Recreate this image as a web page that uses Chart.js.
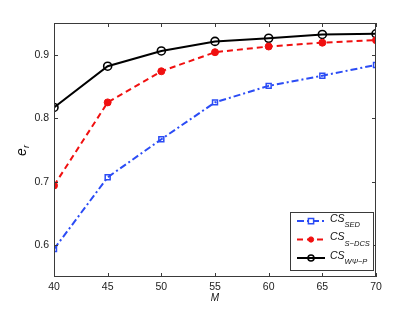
<!DOCTYPE html>
<html>
<head>
<meta charset="utf-8">
<script src="https://cdn.jsdelivr.net/npm/chart.js@4/dist/chart.umd.min.js"></script>
<style>
  html, body { margin: 0; padding: 0; background: #fff; }
  canvas { display: block; }
</style>
</head>
<body>
<canvas id="c" width="415" height="312"></canvas>
<script>
// values
var mValues = [40, 45, 50, 55, 60, 65, 70];
var csSed = [0.594, 0.707, 0.767, 0.825, 0.851, 0.867, 0.884];
var csSDcs = [0.694, 0.825, 0.874, 0.904, 0.913, 0.919, 0.923];
var csWpsiP = [0.817, 0.882, 0.906, 0.921, 0.926, 0.932, 0.933];
var yTicks = [0.6, 0.7, 0.8, 0.9];
var legendSubs = ['SED', 'S\u2212DCS', 'W\u03A8\u2212P'];

var FONT = '"Liberation Sans", Arial, sans-serif';
var AXIS_COLOR = '#3a3a3a';

function toPoints(vals) {
    return vals.map(function(v, i) { return {x: mValues[i], y: v}; });
}

// MATLAB-like box with inward ticks, axis titles and legend
var matlabAxes = {
    id: 'matlabAxes',
    afterDraw: function(chart) {
        var ctx = chart.ctx;
        var a = chart.chartArea;
        var xs = chart.scales.x, ys = chart.scales.y;
        ctx.save();
        ctx.strokeStyle = AXIS_COLOR;
        ctx.lineWidth = 1;
        ctx.strokeRect(a.left + 0.5, a.top + 0.5, a.right - a.left - 1, a.bottom - a.top - 1);
        var tl = 4;
        ctx.beginPath();
        mValues.forEach(function(v) {
            var px = Math.round(xs.getPixelForValue(v)) + 0.5;
            ctx.moveTo(px, a.bottom); ctx.lineTo(px, a.bottom - tl);
            ctx.moveTo(px, a.top); ctx.lineTo(px, a.top + tl);
        });
        yTicks.forEach(function(v) {
            var py = Math.round(ys.getPixelForValue(v)) + 0.5;
            ctx.moveTo(a.left, py); ctx.lineTo(a.left + tl, py);
            ctx.moveTo(a.right, py); ctx.lineTo(a.right - tl, py);
        });
        ctx.stroke();

        // axis titles
        ctx.fillStyle = '#111';
        ctx.textAlign = 'center';
        ctx.textBaseline = 'middle';
        ctx.font = 'italic 10px ' + FONT;
        ctx.fillText('M', (a.left + a.right) / 2, 298);

        ctx.save();
        ctx.translate(22, (a.top + a.bottom) / 2);
        ctx.rotate(-Math.PI / 2);
        ctx.textAlign = 'left';
        ctx.font = 'italic 14px ' + FONT;
        ctx.fillText('e', -6, 0);
        ctx.font = 'italic 9px ' + FONT;
        ctx.fillText('r', 2, 4);
        ctx.restore();

        // legend
        var lx = 290, ly = 212, lw = 83, lh = 58;
        ctx.fillStyle = '#fff';
        ctx.fillRect(lx, ly, lw, lh);
        ctx.strokeStyle = AXIS_COLOR;
        ctx.strokeRect(lx + 0.5, ly + 0.5, lw, lh);
        var rows = [221, 239.5, 258];
        chart.data.datasets.forEach(function(ds, i) {
            var y = rows[i];
            ctx.save();
            ctx.strokeStyle = ds.borderColor;
            ctx.lineWidth = ds.borderWidth;
            ctx.setLineDash(ds.borderDash || []);
            ctx.beginPath();
            ctx.moveTo(297, y); ctx.lineTo(325, y);
            ctx.stroke();
            ctx.setLineDash([]);
            ctx.lineWidth = ds.pointBorderWidth;
            ctx.strokeStyle = ds.pointBorderColor;
            ctx.fillStyle = ds.pointBackgroundColor;
            var r = ds.pointRadius * 0.75;
            ctx.beginPath();
            if (ds.pointStyle === 'rect') {
                ctx.rect(311 - r, y - r, r * 2, r * 2);
                ctx.fillStyle = '#fff';
                ctx.fill();
            } else {
                ctx.arc(311, y, r, 0, Math.PI * 2);
                ctx.fill();
            }
            ctx.stroke();
            ctx.restore();

            ctx.fillStyle = '#111';
            ctx.textAlign = 'left';
            ctx.textBaseline = 'middle';
            ctx.font = 'italic 10.5px ' + FONT;
            ctx.fillText('CS', 330, y - 2);
            var w = ctx.measureText('CS').width;
            ctx.font = 'italic 7.5px ' + FONT;
            ctx.fillText(legendSubs[i], 330 + w, y + 4);
        });
        ctx.restore();
    }
};

var ctx = document.getElementById('c').getContext('2d');
new Chart(ctx, {
    type: 'line',
    data: {
        datasets: [{
            label: 'CS_SED',
            data: toPoints(csSed),
            borderColor: '#2b4cf5',
            borderWidth: 2,
            borderDash: [7, 3, 2, 3],
            pointStyle: 'rect',
            pointRadius: 3.5,
            pointBorderWidth: 1.5,
            pointBorderColor: '#2b4cf5',
            pointBackgroundColor: 'rgba(255,255,255,0)'
        }, {
            label: 'CS_S-DCS',
            data: toPoints(csSDcs),
            borderColor: '#f01010',
            borderWidth: 2,
            borderDash: [6, 4],
            pointStyle: 'circle',
            pointRadius: 3.5,
            pointBorderWidth: 1,
            pointBorderColor: '#f01010',
            pointBackgroundColor: '#f01010'
        }, {
            label: 'CS_WPsi-P',
            data: toPoints(csWpsiP),
            borderColor: '#000',
            borderWidth: 2,
            pointStyle: 'circle',
            pointRadius: 4,
            pointBorderWidth: 1.6,
            pointBorderColor: '#000',
            pointBackgroundColor: 'rgba(255,255,255,0)'
        }]
    },
    options: {
        responsive: false,
        animation: false,
        layout: { padding: { top: 23, right: 39, left: 0, bottom: 0 } },
        plugins: { legend: { display: false }, tooltip: { enabled: false } },
        scales: {
            x: {
                type: 'linear',
                min: 40, max: 70,
                grid: { display: false, drawTicks: false, tickLength: 0 },
                border: { display: false },
                afterFit: function(s) { s.height = 35; },
                ticks: { stepSize: 5, color: '#222', padding: 4, font: { family: FONT, size: 10.5 } }
            },
            y: {
                min: 0.55, max: 0.95,
                grid: { display: false, drawTicks: false, tickLength: 0 },
                border: { display: false },
                afterBuildTicks: function(s) { s.ticks = yTicks.map(function(v) { return {value: v}; }); },
                afterFit: function(s) { s.width = 54; },
                ticks: {
                    color: '#222', padding: 5, font: { family: FONT, size: 10.5 },
                    callback: function(v) { return v.toFixed(1); }
                }
            }
        }
    },
    plugins: [matlabAxes]
});
</script>
</body>
</html>
